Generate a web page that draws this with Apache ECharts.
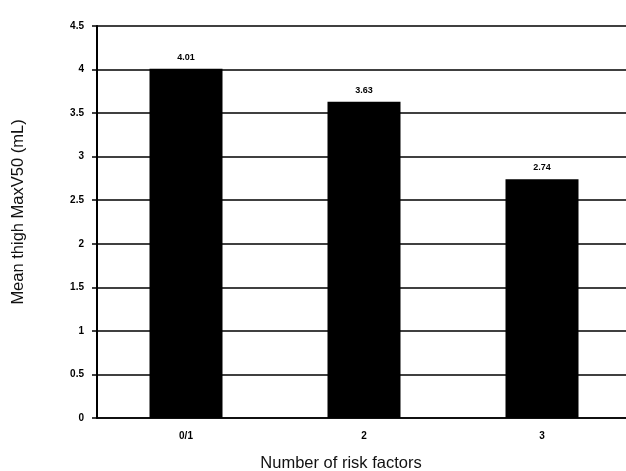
<!DOCTYPE html>
<html>
<head>
<meta charset="utf-8">
<script src="https://cdn.jsdelivr.net/npm/echarts@6/dist/echarts.min.js"></script>
<style>html,body{margin:0;padding:0;background:#fff}#c{width:626px;height:471px}</style>
</head>
<body>
<div id="c"></div>
<script>
const categories = ['0/1', '2', '3'];
const values = [4.01, 3.63, 2.74];
const valueLabels = ['4.01', '3.63', '2.74'];
const yTicks = [0, 0.5, 1, 1.5, 2, 2.5, 3, 3.5, 4, 4.5];

const chart = echarts.init(document.getElementById('c'));
chart.setOption({
  animation: false,
  backgroundColor: '#fff',
  grid: { left: 97, right: -5, top: 26, bottom: 53, outerBoundsMode: 'none', containLabel: false },
  xAxis: {
    type: 'category',
    data: categories,
    axisLine: { show: true, lineStyle: { color: '#000', width: 1.5 } },
    axisTick: { show: false },
    axisLabel: { color: '#000', fontFamily: 'Liberation Sans, Arial', fontWeight: 'bold', fontSize: 10, margin: 13 },
    name: 'Number of risk factors',
    nameLocation: 'middle',
    nameGap: 37,
    nameTextStyle: { color: '#111', fontFamily: 'Liberation Sans, Arial', fontSize: 16.5, padding: [0, 46, 0, 0] }
  },
  yAxis: {
    type: 'value',
    min: yTicks[0],
    max: yTicks[yTicks.length - 1],
    interval: 0.5,
    axisLine: { show: true, lineStyle: { color: '#000', width: 2 } },
    axisTick: { show: true, length: 5, lineStyle: { color: '#000', width: 1.5 } },
    axisLabel: { color: '#000', fontFamily: 'Liberation Sans, Arial', fontWeight: 'bold', fontSize: 10, margin: 13,
      formatter: v => String(v) },
    splitLine: { show: true, lineStyle: { color: '#000', width: 1.5 } },
    name: 'Mean thigh MaxV50 (mL)',
    nameLocation: 'middle',
    nameGap: 70,
    nameTextStyle: { color: '#111', fontFamily: 'Liberation Sans, Arial', fontSize: 16.5, padding: [0, 0, 0, 20] }
  },
  series: [{
    type: 'bar',
    data: values,
    barWidth: 73,
    itemStyle: { color: '#000' },
    label: {
      show: true,
      position: 'top',
      distance: 7,
      color: '#000',
      fontFamily: 'Liberation Sans, Arial',
      fontWeight: 'bold',
      fontSize: 9,
      formatter: p => valueLabels[p.dataIndex]
    }
  }]
});
</script>
</body>
</html>
